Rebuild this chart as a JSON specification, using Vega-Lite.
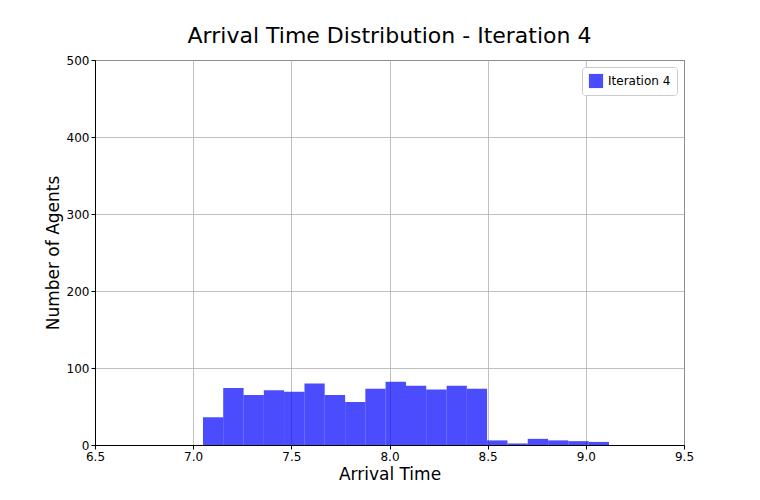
{
  "$schema": "https://vega.github.io/schema/vega-lite/v6.json",
  "autosize": "none",
  "width": 589,
  "height": 385,
  "padding": {"left": 95, "top": 60, "right": 76, "bottom": 55},
  "background": "white",
  "title": {"text": "Arrival Time Distribution - Iteration 4", "fontSize": 22, "font": "DejaVu Sans", "fontWeight": "normal", "offset": 6, "color": "black"},
  "config": {
    "view": {"stroke": "black", "strokeWidth": 1},
    "axis": {"labelFont": "DejaVu Sans", "titleFont": "DejaVu Sans", "labelFontSize": 12, "titleFontSize": 17, "titleFontWeight": "normal", "labelColor": "black", "titleColor": "black", "gridColor": "#b0b0b0", "gridWidth": 0.8, "gridOpacity": 1, "domainColor": "black", "tickColor": "black", "tickSize": 4, "labelFlush": false, "labelOverlap": false}
  },
  "data": {"values": [
    {"x0": 7.050, "x1": 7.153, "count": 36, "series": "Iteration 4"},
    {"x0": 7.153, "x1": 7.257, "count": 74, "series": "Iteration 4"},
    {"x0": 7.257, "x1": 7.360, "count": 65, "series": "Iteration 4"},
    {"x0": 7.360, "x1": 7.463, "count": 71, "series": "Iteration 4"},
    {"x0": 7.463, "x1": 7.567, "count": 69, "series": "Iteration 4"},
    {"x0": 7.567, "x1": 7.670, "count": 80, "series": "Iteration 4"},
    {"x0": 7.670, "x1": 7.774, "count": 65, "series": "Iteration 4"},
    {"x0": 7.774, "x1": 7.877, "count": 56, "series": "Iteration 4"},
    {"x0": 7.877, "x1": 7.980, "count": 73, "series": "Iteration 4"},
    {"x0": 7.980, "x1": 8.084, "count": 82, "series": "Iteration 4"},
    {"x0": 8.084, "x1": 8.187, "count": 77, "series": "Iteration 4"},
    {"x0": 8.187, "x1": 8.291, "count": 72, "series": "Iteration 4"},
    {"x0": 8.291, "x1": 8.394, "count": 77, "series": "Iteration 4"},
    {"x0": 8.394, "x1": 8.497, "count": 73, "series": "Iteration 4"},
    {"x0": 8.497, "x1": 8.601, "count": 6, "series": "Iteration 4"},
    {"x0": 8.601, "x1": 8.704, "count": 2, "series": "Iteration 4"},
    {"x0": 8.704, "x1": 8.808, "count": 8, "series": "Iteration 4"},
    {"x0": 8.808, "x1": 8.911, "count": 6, "series": "Iteration 4"},
    {"x0": 8.911, "x1": 9.014, "count": 5, "series": "Iteration 4"},
    {"x0": 9.014, "x1": 9.118, "count": 4, "series": "Iteration 4"}
  ]},
  "mark": {"type": "bar", "opacity": 0.7},
  "encoding": {
    "x": {"field": "x0", "type": "quantitative", "title": "Arrival Time", "scale": {"domain": [6.5, 9.5], "nice": false, "padding": 0}, "axis": {"values": [6.5, 7.0, 7.5, 8.0, 8.5, 9.0, 9.5], "format": ".1f"}},
    "x2": {"field": "x1"},
    "y": {"field": "count", "type": "quantitative", "title": "Number of Agents", "scale": {"domain": [0, 500], "nice": false, "padding": 0}, "axis": {"values": [0, 100, 200, 300, 400, 500]}},
    "y2": {"datum": 0},
    "color": {"field": "series", "type": "nominal", "scale": {"range": ["#0000ff"]}, "legend": {"title": null, "orient": "top-right", "symbolType": "square", "symbolSize": 200, "symbolOpacity": 0.7, "labelFontSize": 12, "labelFont": "DejaVu Sans", "labelColor": "black", "fillColor": "white", "strokeColor": "#cccccc", "padding": 6, "cornerRadius": 3, "offset": 7}}
  }
}
